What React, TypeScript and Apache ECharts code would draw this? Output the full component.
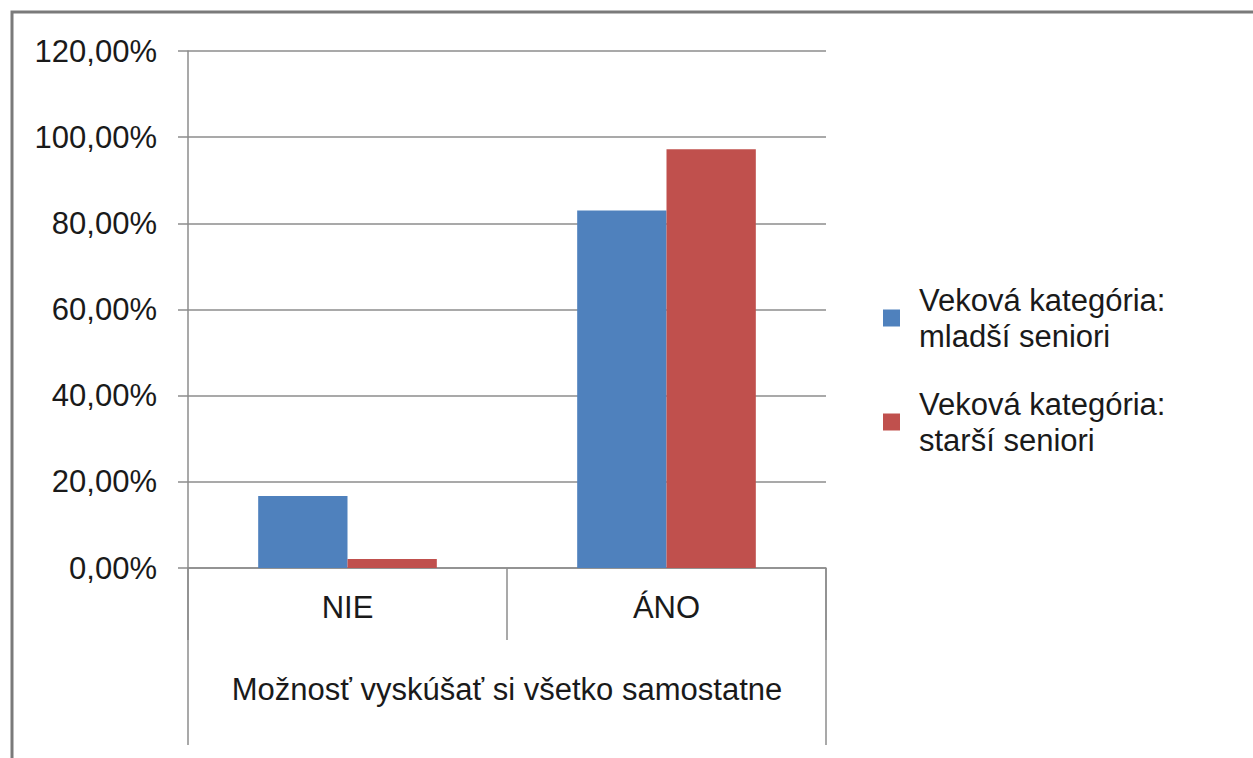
import React, { useEffect, useRef } from "react";
import * as echarts from "echarts";

const categories = ["NIE", "ÁNO"];
const groupLabel = ["Možnosť vyskúšať si všetko samostatne"];
const seriesNames = ["Veková kategória:\nmladší seniori", "Veková kategória:\nstarší seniori"];
const youngerSeniors = [16.7, 83.0];
const olderSeniors = [2.1, 97.2];
const yTicks = [0, 20, 40, 60, 80, 100, 120];

const FONT = "'Liberation Sans', Arial, sans-serif";
const TEXT = "#1a1a1a";
const GRID = "#8c8c8c";
const FS = 31;

export default function App() {
  const ref = useRef<HTMLDivElement>(null);
  useEffect(() => {
    document.body.style.margin = "0";
    const chart = echarts.init(ref.current!, null, { renderer: "svg" });
    chart.setOption({
      animation: false,
      backgroundColor: "#ffffff",
      textStyle: { fontFamily: FONT },
      grid: { left: 188, top: 51, width: 638, height: 517, containLabel: false },
      graphic: [
        {
          type: "rect",
          shape: { x: 12, y: 12, width: 1270, height: 780 },
          style: { fill: "none", stroke: "#7a7a7a", lineWidth: 3 },
          silent: true,
        },
      ],
      legend: {
        orient: "vertical",
        left: 883,
        top: 282,
        padding: 0,
        itemWidth: 17,
        itemHeight: 17,
        itemGap: 32,
        icon: "rect",
        textStyle: {
          fontFamily: FONT,
          fontSize: FS,
          color: TEXT,
          lineHeight: 36,
          padding: [0, 0, 0, 14],
        },
        data: seriesNames,
      },
      xAxis: [
        {
          type: "category",
          data: categories,
          position: "bottom",
          axisLine: { show: true, lineStyle: { color: GRID, width: 1.5 } },
          axisTick: { show: true, interval: 0, length: 72, lineStyle: { color: GRID, width: 1.5 } },
          axisLabel: { margin: 24, fontSize: FS, color: TEXT, fontFamily: FONT, interval: 0 },
        },
        {
          type: "category",
          data: groupLabel,
          position: "bottom",
          axisLine: { show: false },
          axisTick: { show: true, interval: 0, length: 177, lineStyle: { color: GRID, width: 1.5 } },
          axisLabel: { margin: 106, fontSize: FS, color: TEXT, fontFamily: FONT, interval: 0 },
        },
      ],
      yAxis: {
        type: "value",
        min: yTicks[0],
        max: yTicks[yTicks.length - 1],
        interval: 20,
        axisLine: { show: true, lineStyle: { color: GRID, width: 1.5 } },
        axisTick: { show: true, length: 10, lineStyle: { color: GRID, width: 1.5 } },
        splitLine: { show: true, lineStyle: { color: GRID, width: 1.5 } },
        axisLabel: {
          margin: 31,
          fontSize: FS,
          color: TEXT,
          fontFamily: FONT,
          formatter: (v: number) => v.toFixed(2).replace(".", ",") + "%",
        },
      },
      series: [
        {
          name: seriesNames[0],
          type: "bar",
          xAxisIndex: 0,
          data: youngerSeniors,
          barGap: "0%",
          barCategoryGap: "44%",
          itemStyle: { color: "#4F81BD" },
        },
        {
          name: seriesNames[1],
          type: "bar",
          xAxisIndex: 0,
          data: olderSeniors,
          barGap: "0%",
          barCategoryGap: "44%",
          itemStyle: { color: "#C0504D" },
        },
      ],
    });
    return () => chart.dispose();
  }, []);
  return <div ref={ref} style={{ width: 1253, height: 758 }} />;
}
